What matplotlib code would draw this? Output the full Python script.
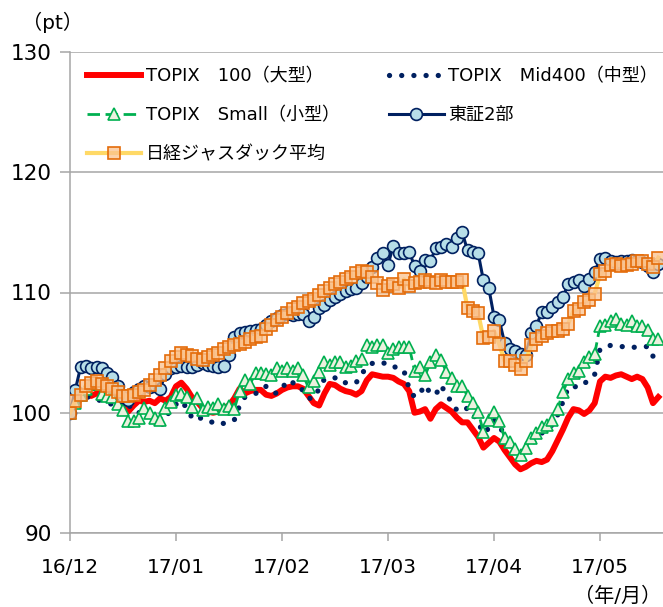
import matplotlib
matplotlib.use("Agg")
import matplotlib.pyplot as plt

plt.rcParams['font.family'] = ['DejaVu Sans', 'Noto Sans CJK JP']

# month labels shown every 20 business days
month_labels = ['16/12', '17/01', '17/02', '17/03', '17/04', '17/05']
label_step = 20

topix100 = [
    100.0, 100.6, 101.2, 101.5, 101.4, 101.6, 101.5, 101.8, 101.6, 101.2,
    100.5, 100.1, 100.6, 101.0, 100.9, 101.0, 100.8, 101.2, 101.0, 101.3,
    102.2, 102.5, 102.0, 101.3, 100.9, 100.4, 100.1, 100.0, 100.1, 100.4,
    100.6, 101.2, 102.0, 101.6, 101.8, 101.9, 101.9, 101.5, 101.4, 101.6,
    101.9, 102.1, 102.2, 102.2, 102.0, 101.4, 100.8, 100.6, 101.6, 102.4,
    102.3, 102.0, 101.8, 101.7, 101.5, 101.8, 102.7, 103.2, 103.1, 103.0,
    103.0, 102.9, 102.6, 102.4, 101.8, 100.0, 100.1, 100.3, 99.5, 100.3,
    100.7, 100.4, 100.1, 99.6, 99.2, 99.2, 98.6, 98.0, 97.1, 97.5,
    97.9, 97.6, 96.9, 96.3, 95.7, 95.3, 95.5, 95.8, 96.0, 95.9,
    96.1, 96.8, 97.7, 98.6, 99.6, 100.3, 100.2, 99.9, 100.2, 100.8,
    102.6, 103.0, 102.9, 103.1, 103.2, 103.0, 102.8, 103.0, 102.8, 102.1,
    100.8, 101.3,
]

mid400 = [
    100.0, 100.5, 101.0, 101.3, 101.3, 101.2, 100.9, 100.8, 100.7, 101.0,
    101.2, 100.7, 100.1, 100.0, 100.3, 100.0, 99.6, 98.7, 99.5, 100.3,
    100.7, 101.0, 100.4, 99.6, 99.8, 99.4, 99.3, 99.2, 99.3, 99.1,
    99.3, 99.4, 100.6, 101.3, 101.5, 101.6, 101.8, 102.2, 101.8, 101.6,
    102.0, 102.7, 102.5, 102.4, 101.8, 101.2, 101.2, 102.0, 102.8, 102.9,
    102.9, 102.5, 102.5, 102.4, 102.5, 103.2, 103.8, 104.1, 104.2, 104.2,
    103.9, 103.9, 103.6, 103.5, 102.0, 101.3, 101.6, 102.3, 101.6, 101.5,
    102.3, 101.5, 100.9, 100.2, 100.1, 100.4, 99.9, 99.2, 98.3, 98.7,
    99.4, 99.0, 98.0, 97.4, 96.9, 96.6, 96.9, 97.4, 97.8, 98.3,
    98.6, 99.0, 99.8, 100.9, 102.1, 102.2, 102.1, 102.4, 102.8, 103.2,
    105.3, 105.5, 105.6, 105.6, 105.5, 105.5, 105.4, 105.5, 105.5, 105.5,
    104.7, 104.1,
]

small = [
    100.0, 100.8, 101.5, 102.0, 102.4, 102.4, 101.6, 101.4, 101.3, 100.7,
    100.2, 99.3, 99.3, 99.6, 100.4, 100.0, 99.6, 99.4, 100.4, 100.9,
    101.5, 101.6, 101.3, 100.5, 101.2, 100.2, 100.5, 100.4, 100.7, 100.3,
    100.6, 100.3, 101.8, 102.7, 102.4, 103.3, 103.3, 103.2, 103.1, 103.7,
    103.5, 103.7, 103.5, 103.7, 103.1, 102.1, 102.6, 103.4, 104.2, 104.0,
    104.2, 104.2, 103.8, 103.9, 104.3, 104.5, 105.6, 105.5, 105.6, 105.6,
    105.0, 105.3, 105.5, 105.5, 105.5, 103.5, 103.8, 103.1, 104.2, 104.8,
    104.4, 103.4, 102.9, 102.2, 102.2, 101.4, 100.8, 100.1, 98.4, 99.4,
    100.1, 99.3, 97.9, 97.6, 97.0, 96.5, 97.1, 97.9, 98.3, 98.8,
    99.0, 99.4, 100.3, 101.7, 102.8, 103.3, 103.5, 104.2, 104.6, 104.9,
    107.2, 107.3, 107.6, 107.8, 107.4, 107.3, 107.6, 107.2, 107.2, 106.9,
    106.1, 106.1,
]

tse2 = [
    100.0, 101.9, 103.8, 103.9, 103.7, 103.8, 103.7, 103.3, 103.0, 102.2,
    101.3, 101.1, 101.7, 102.0, 102.2, 102.1, 102.2, 102.0, 103.2, 103.7,
    103.8, 103.9, 103.8, 103.8, 104.0, 104.1, 104.0, 103.9, 103.8, 103.9,
    104.8, 106.3, 106.6, 106.7, 106.8, 106.9, 107.0, 107.3, 107.6, 107.9,
    108.1, 108.2, 108.1, 108.2, 108.2, 107.6, 108.0, 108.7, 109.0, 109.4,
    109.6, 109.9, 110.1, 110.3, 110.4, 110.8, 111.3, 112.1, 112.9, 113.3,
    112.3, 113.9, 113.3, 113.3, 113.4, 112.2, 111.8, 112.7, 112.6, 113.7,
    113.8, 114.0, 113.8, 114.5, 115.0, 113.5, 113.4, 113.3, 111.0, 110.4,
    108.0, 107.7, 105.8, 105.3, 105.1, 104.9, 104.8, 106.6, 107.2, 108.4,
    108.4, 108.8, 109.2, 109.6, 110.7, 110.9, 111.0, 110.5, 111.1, 111.7,
    112.8, 112.9, 112.6, 112.5, 112.6, 112.6, 112.7, 112.6, 112.5, 112.2,
    111.7, 112.4,
]

jasdaq = [
    100.0, 101.0, 101.5, 102.2, 102.5, 102.6, 102.4, 102.2, 102.0, 101.7,
    101.4, 101.4, 101.5, 101.7, 101.9, 102.3, 102.7, 103.1, 103.7, 104.3,
    104.6, 105.0, 104.8, 104.7, 104.5, 104.4, 104.6, 104.8, 105.0, 105.3,
    105.5, 105.6, 105.7, 105.9, 106.1, 106.3, 106.4, 107.0, 107.3, 107.7,
    108.0, 108.3, 108.6, 108.8, 109.1, 109.3, 109.5, 109.8, 110.1, 110.4,
    110.7, 110.9, 111.1, 111.3, 111.6, 111.8, 111.7, 111.3, 110.8, 110.2,
    110.5, 110.7, 110.4, 111.1, 110.5, 110.8, 110.9, 111.0, 110.9, 110.8,
    111.0, 110.9, 110.9, 110.9, 111.0, 108.7, 108.5, 108.3, 106.2, 106.3,
    106.8, 105.7, 104.3, 104.3, 104.0, 103.6, 104.3, 105.6, 106.1, 106.4,
    106.6, 106.8, 106.8, 107.0, 107.4, 108.5, 108.6, 109.2, 109.4, 109.9,
    111.5, 111.8, 112.3, 112.4, 112.2, 112.3, 112.4, 112.6, 112.6, 112.4,
    112.1, 112.9,
]

x = list(range(len(topix100)))

fig = plt.figure(figsize=(6.63, 6.07), dpi=100)
ax = fig.add_axes([70 / 663, 1 - 533 / 607, 1 - 70 / 663, (533 - 52) / 607])

l_top, = ax.plot(x, topix100, color='#FF0000', lw=4.3, solid_joinstyle='round',
                 label='TOPIX\u3000100（大型）', zorder=3)
l_mid, = ax.plot(x, mid400, color='#002060', lw=3.8, linestyle=(0, (0.01, 2.3)),
                 dash_capstyle='round', label='TOPIX\u3000Mid400（中型）', zorder=4)
l_small, = ax.plot(x, small, color='#00B050', lw=2.0, linestyle=(0, (4.5, 2.0)),
                   marker='^', markersize=9, markerfacecolor='#EBF1DE',
                   markeredgecolor='#00B050', markeredgewidth=1.2,
                   label='TOPIX\u3000Small（小型）', zorder=5)
l_tse, = ax.plot(x, tse2, color='#002060', lw=2.2, marker='o', markersize=8.5,
                 markerfacecolor='#B7DEE8', markeredgecolor='#002060',
                 markeredgewidth=1.2, label='東証2部', zorder=6)
l_jq, = ax.plot(x, jasdaq, color='#FFD966', lw=3.0, marker='s', markersize=8,
                markerfacecolor=(0.98, 0.76, 0.56, 0.75), markeredgecolor='#E46C0A',
                markeredgewidth=1.2, label='日経ジャスダック平均', zorder=7)

ax.set_xlim(0, (663 - 70) / 5.3)
ax.set_ylim(90, 130)
ax.set_yticks([90, 100, 110, 120, 130])
ax.set_xticks(range(0, label_step * len(month_labels), label_step))
ax.set_xticklabels(month_labels)
ax.grid(axis='y', color='#A6A6A6', lw=1.1)
ax.set_axisbelow(True)
for s in ['top', 'right']:
    ax.spines[s].set_visible(False)
for s in ['left', 'bottom']:
    ax.spines[s].set_color('#A6A6A6')
    ax.spines[s].set_linewidth(1.1)
ax.tick_params(axis='y', length=7, width=1.1, color='#A6A6A6', pad=6, labelsize=15.5)
ax.tick_params(axis='x', length=6, width=1.1, color='#A6A6A6', pad=12, labelsize=14.5)

fig.text(52 / 663, 1 - 22 / 607, '（pt）', fontsize=14.5, ha='center', va='center')
fig.text(618 / 663, 1 - 596 / 607, '（年/月）', fontsize=14.5, ha='center', va='center')

ax.legend(handles=[l_top, l_small, l_jq, l_mid, l_tse], ncol=2, frameon=False,
          loc='upper left', bbox_to_anchor=(17 / 593, 0.968), borderaxespad=0,
          fontsize=13, handlelength=3.0, handletextpad=0.25, labelspacing=1.15,
          columnspacing=2.75, borderpad=0)

fig.savefig('out.png', dpi=100)
